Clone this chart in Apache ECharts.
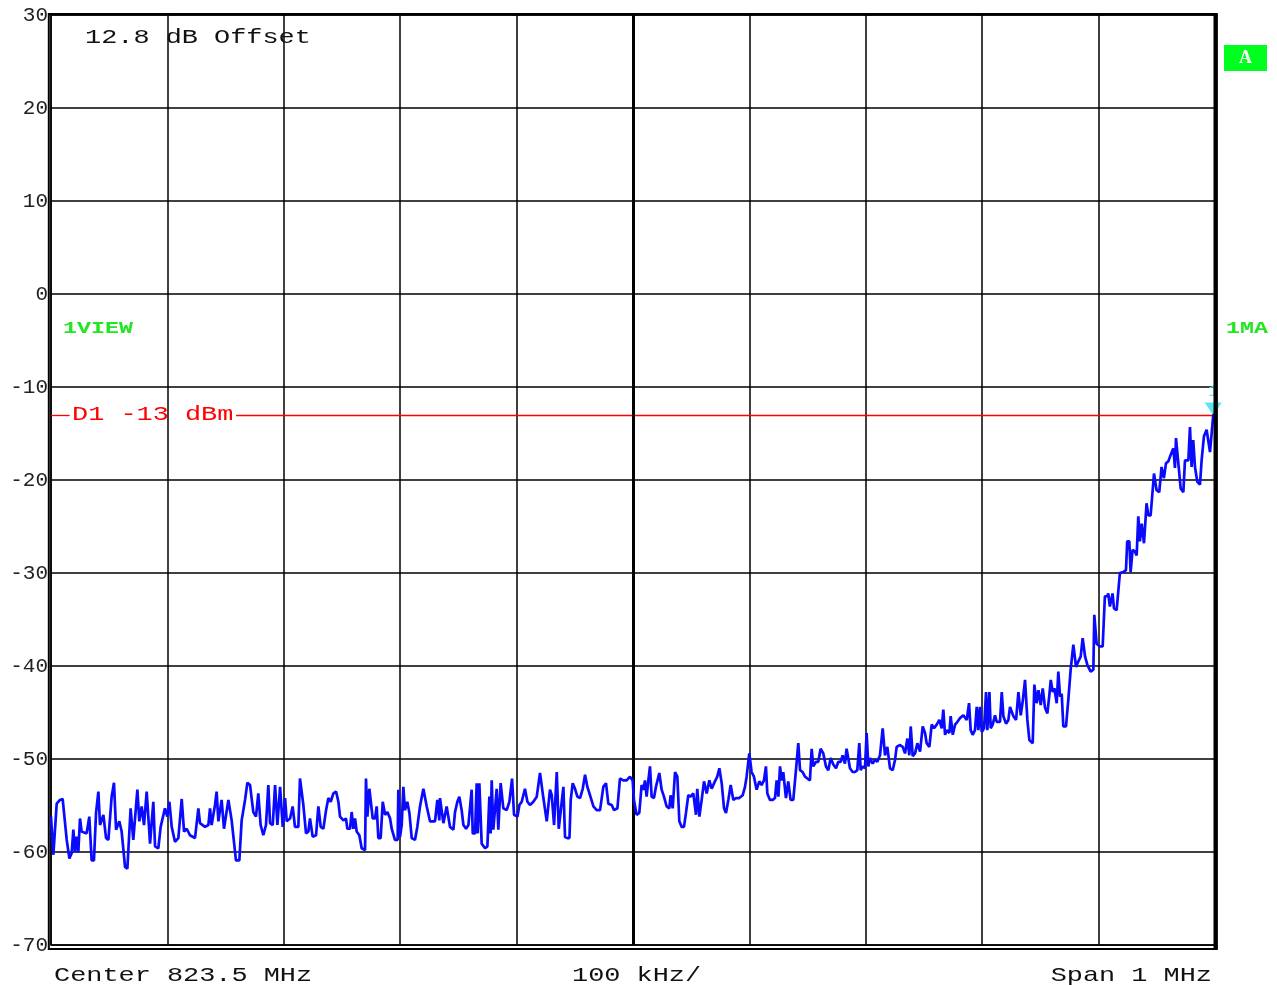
<!DOCTYPE html>
<html><head><meta charset="utf-8">
<script src="https://cdn.jsdelivr.net/npm/echarts@6/dist/echarts.min.js"></script>
<style>html,body{margin:0;padding:0;background:#fff}#c{width:1277px;height:985px}</style>
</head><body><div id="c"></div><script>
// Axis settings
const freqSpanKHz = [0, 1000];
const levelRange = [-70, 30];
const limitLineDBm = -13;
const markerPoint = [998.5, -13.0];
const headerText = '12.8 dB Offset';
const footerTexts = ['Center 823.5 MHz', '100 kHz/', 'Span 1 MHz'];

// Trace: [frequency offset kHz, level dBm]
const traceSeg1 = [[0,-56.2],[2.0,-60.3],[4.9,-54.8],[7.7,-54.4],[10.0,-54.3],[11.2,-55.8],[13.5,-58.7],[15.8,-60.7],[17.8,-60.1],[19.2,-57.6],[20.6,-60.0],[22.1,-58.35],[23.5,-60.0],[24.9,-56.4],[26.3,-57.8],[27.8,-57.6],[30.6,-58.0],[32.9,-56.2],[34.9,-60.9],[36.9,-60.9],[38.7,-55.8],[40.7,-53.5],[42.1,-57.1],[45.0,-56.0],[47.3,-58.5],[49.3,-58.7],[52.1,-54.05],[54.1,-52.55],[55.9,-57.6],[58.7,-56.7],[60.7,-57.8],[63.6,-61.6],[65.6,-61.8],[68.4,-55.3],[70.7,-58.7],[74.2,-53.3],[75.9,-56.7],[77.9,-55.1],[79.9,-57.1],[82.2,-53.5],[85.1,-59.1],[87.9,-54.6],[89.4,-59.4],[92.2,-59.6],[94.2,-57.3],[97.9,-55.3],[99.9,-56.2],[101.7,-54.6],[103.7,-57.3],[106.5,-58.9],[109.4,-58.5],[112.3,-54.3],[114.3,-57.8],[116.6,-57.5],[119.4,-58.2],[123.7,-58.5],[126.6,-55.3],[128.0,-56.9],[132.3,-57.3],[135.2,-57.1],[136.6,-55.3],[138.0,-57.1],[140.9,-54.95],[142.3,-53.5],[143.8,-56.7],[146.6,-54.4],[148.6,-57.5],[152.4,-54.4],[155.2,-56.6],[158.9,-60.9],[161.8,-60.9],[163.8,-56.6],[166.7,-54.4],[168.7,-52.55],[171.0,-52.8],[173.8,-55.7],[176.1,-56.2],[178.1,-53.7],[180.1,-57.1],[182.4,-58.2],[184.7,-57.1],[186.7,-52.8],[188.2,-56.9],[190.5,-57.1],[192.5,-52.8],[194.5,-57.1],[196.8,-53.0],[199.1,-57.3],[201.1,-54.2],[202.5,-56.7],[205.4,-56.4],[207.6,-55.1],[209.6,-57.3],[212.5,-57.3],[213.9,-52.1],[216.8,-54.95],[219.1,-58.0],[221.1,-57.8],[222.5,-56.4],[224.8,-58.35],[227.7,-58.2],[229.7,-55.1],[231.7,-57.3],[234.0,-57.5],[236.3,-55.5],[238.3,-54.2],[240.3,-54.6],[242.6,-53.7],[244.9,-53.5],[246.9,-54.6]];
const traceSeg2 = [[248.3,-56.2],[251.2,-56.6],[253.4,-56.4],[254.6,-57.5],[256.9,-57.5],[258.3,-55.7],[259.8,-57.5],[261.2,-56.4],[262.6,-57.8],[264.9,-58.2],[266.9,-59.6],[269.8,-59.8],[270.6,-52.1],[271.8,-56.2],[273.5,-53.2],[274.6,-53.2],[276.4,-56.4],[278.4,-56.4],[279.8,-55.1],[281.2,-58.5],[283.2,-58.5],[285.0,-54.6],[287.0,-56.0],[289.0,-55.7],[291.3,-56.4],[292.7,-57.5],[295.5,-58.7],[297.8,-58.7],[298.4,-53.3],[299.8,-58.4],[301.3,-57.1],[302.7,-53.0],[304.1,-55.5],[306.1,-54.6],[307.9,-55.8],[309.9,-58.5],[312.7,-58.7],[314.7,-57.3],[317.0,-55.1],[319.9,-53.2],[322.8,-55.1],[325.6,-56.7],[329.9,-56.7],[331.9,-54.4],[333.6,-56.6],[334.2,-54.2],[337.1,-56.9],[339.9,-55.1],[342.8,-57.3],[345.7,-57.6],[347.1,-55.7],[349.1,-54.6],[350.8,-54.05],[352.8,-55.5],[354.3,-57.1],[356.6,-57.5],[358.6,-57.1],[361.4,-53.3],[362.3,-58.0],[364.3,-58.0],[365.7,-52.6],[366.6,-58.0],[368.0,-52.6],[370.0,-59.1],[372.9,-59.6],[374.9,-59.4],[376.6,-54.05],[377.7,-58.0],[378.6,-52.3],[380.0,-57.6],[382.9,-53.2],[384.3,-57.6],[386.3,-52.6],[388.6,-55.3],[391.5,-55.5],[393.8,-54.6],[396.1,-52.1],[397.8,-56.0],[400.7,-56.2],[402.4,-54.95],[404.4,-54.6],[407.2,-53.2],[409.3,-54.6],[411.5,-54.95],[414.4,-54.6],[417.3,-54.05],[420.1,-51.5],[423.0,-54.2],[425.9,-56.7],[428.7,-53.3],[430.2,-53.9],[432.2,-57.1],[434.5,-51.4],[436.2,-57.5],[437.9,-57.6],[440.2,-53.0],[441.6,-58.4],[443.6,-58.5],[445.4,-58.5],[446.5,-54.4],[448.2,-52.6],[450.2,-53.2],[452.2,-54.05],[454.5,-54.2],[456.8,-53.2],[458.8,-51.7],[460.8,-53.0],[463.1,-53.9],[466.0,-55.1],[468.8,-55.5],[471.7,-55.5],[474.5,-53.0],[476.8,-52.6],[478.8,-54.8],[481.7,-54.95],[483.7,-55.5],[486.6,-55.3]];
const traceSeg3 = [[488.8,-52.1],[491.7,-52.3],[494.5,-52.3],[497.4,-51.9],[499.7,-52.3],[500.8,-54.4],[503.1,-56.0],[505.4,-55.8],[507.4,-52.8],[508.9,-53.3],[510.3,-52.3],[511.7,-54.05],[513.2,-52.3],[514.6,-50.8],[516.0,-54.05],[518.0,-54.2],[519.7,-53.0],[522.6,-51.5],[524.6,-53.3],[526.6,-54.05],[528.9,-55.1],[531.2,-55.3],[532.3,-53.9],[534.1,-55.3],[536.1,-51.4],[538.1,-51.9],[539.8,-56.7],[541.8,-57.3],[543.8,-57.3],[545.5,-55.8],[547.5,-53.9],[549.5,-54.05],[551.8,-53.7],[554.1,-56.0],[555.2,-53.2],[557.0,-56.2],[559.0,-54.4],[561.0,-52.4],[563.3,-53.7],[565.6,-52.3],[567.6,-53.2],[570.4,-52.4],[572.4,-51.9],[574.2,-51.0],[576.2,-52.6],[578.2,-55.3],[579.9,-55.8],[581.9,-54.4],[583.9,-52.8],[586.2,-54.4],[588.5,-54.2],[591.3,-54.2],[594.2,-53.9],[596.2,-53.0],[597.6,-51.9],[599.9,-49.4],[601.9,-51.4],[603.9,-51.9],[606.2,-53.3],[608.5,-52.4],[610.5,-52.8],[612.5,-52.3],[614.2,-50.8],[615.4,-53.7],[617.7,-54.4],[620.0,-54.4],[622.0,-54.2],[623.4,-52.3],[624.9,-54.05],[626.3,-50.8],[627.7,-52.3],[629.1,-51.4],[631.4,-54.2],[633.4,-52.4],[635.4,-54.4],[637.7,-54.4],[640.0,-51.2],[642.0,-48.3],[643.5,-51.2],[645.7,-51.4],[647.8,-51.9],[649.8,-52.1],[652.0,-52.3],[653.5,-48.9],[654.9,-50.8],[657.2,-50.3],[659.2,-50.3],[661.2,-48.9],[663.5,-49.4],[665.8,-50.8],[667.8,-51.2],[669.8,-49.9],[672.1,-50.6],[674.4,-51.0],[676.4,-50.3],[678.4,-50.3],[680.1,-49.6],[682.1,-50.5],[683.5,-48.9],[685.0,-48.7],[686.4,-51.0],[688.7,-51.4],[690.7,-51.4],[692.7,-51.2],[694.4,-48.3],[695.6,-51.2],[697.3,-50.8],[699.3,-51.0],[700.7,-47.2],[702.2,-50.8],[703.6,-49.9],[705.9,-50.5],[707.9,-50.1],[709.9,-50.3],[712.2,-49.6],[714.5,-46.7],[716.5,-49.6],[718.5,-48.7],[720.8,-51.0],[723.1,-51.2],[725.1,-50.1],[726.5,-48.7]];
const traceSeg4 = [[729.4,-48.5],[731.7,-48.7],[733.7,-49.4],[735.7,-47.8],[737.4,-49.6],[738.6,-46.5],[740.3,-49.7],[742.3,-49.4],[744.3,-48.3],[746.6,-49.2],[748.9,-46.5],[750.9,-47.2],[752.3,-48.3],[754.6,-48.7],[756.6,-46.3],[758.6,-46.7],[760.9,-46.3],[763.2,-45.8],[765.2,-46.7],[766.6,-44.7],[768.1,-47.4],[769.5,-46.9],[771.8,-47.2],[772.9,-45.4],[774.7,-47.4],[776.7,-46.3],[778.7,-46.0],[781.0,-45.6],[783.8,-45.3],[786.7,-45.8],[788.7,-44.0],[790.1,-46.9],[791.8,-47.4],[793.8,-46.9],[795.3,-44.4],[796.7,-46.9],[798.1,-44.4],[799.6,-47.1],[801.6,-46.7],[803.3,-42.8],[804.4,-46.9],[806.2,-42.8],[807.3,-46.7],[809.0,-46.3],[811.0,-45.3],[812.5,-46.0],[815.3,-46.0],[816.8,-42.8],[818.2,-45.4],[820.5,-46.2],[822.5,-45.8],[823.9,-44.4],[826.8,-45.4],[829.1,-45.8],[831.1,-42.8],[833.1,-45.3],[834.8,-43.8],[836.8,-41.5],[838.8,-45.8],[840.5,-47.95],[843.4,-48.3],[844.8,-42.0],[846.8,-44.0],[848.3,-42.6],[850.3,-44.2],[852.0,-42.4],[854.0,-44.5],[856.0,-45.1],[857.7,-43.1],[858.9,-41.5],[860.6,-42.8],[862.0,-42.4],[864.0,-44.0],[865.4,-40.6],[866.9,-43.3],[868.3,-43.0],[869.7,-46.5],[872.0,-46.5],[874.0,-43.6],[876.0,-40.4],[878.3,-37.7],[880.6,-40.1],[882.6,-39.5],[884.6,-39.0],[886.3,-37.0],[888.4,-39.0],[890.4,-39.9],[893.2,-40.6],[895.5,-40.4]];
const traceSeg5 = [[896.3,-34.5],[898.3,-37.6],[901.2,-37.9],[903.5,-37.9],[905.4,-32.5],[907.4,-32.5],[908.3,-32.2],[909.7,-33.6],[912.0,-32.2],[913.2,-33.8],[915.5,-34.0],[918.3,-30.0],[921.2,-29.9],[923.5,-29.7],[924.6,-26.6],[926.4,-26.6],[927.5,-29.9],[929.2,-27.5],[931.2,-27.7],[932.7,-28.1],[934.1,-23.9],[935.5,-26.6],[937.0,-24.7],[939.0,-26.8],[940.7,-26.6],[941.2,-22.5],[942.7,-23.8],[944.7,-23.8],[947.6,-19.3],[949.8,-21.1],[952.1,-21.3],[954.1,-18.6],[956.1,-19.8],[957.9,-18.2],[959.9,-18.0],[961.9,-17.3],[964.2,-16.6],[965.6,-18.7],[966.5,-15.5],[968.5,-18.2],[970.5,-20.9],[972.8,-21.3],[974.2,-17.9],[975.6,-17.7],[977.1,-17.9],[978.5,-14.3],[979.9,-18.6],[981.3,-15.7],[982.8,-18.6],[984.8,-20.2],[987.1,-20.5],[988.5,-17.9],[990.5,-15.3],[992.8,-14.6],[994.2,-14.6],[995.7,-17.0],[997.1,-17.1],[998.5,-13.0],[1000,-13.0]];
const trace = traceSeg1.concat(traceSeg2, traceSeg3, traceSeg4, traceSeg5);

const MONO = '"Liberation Mono", "DejaVu Sans Mono", monospace';
const chart = echarts.init(document.getElementById('c'), null, {renderer: 'canvas'});
const GL = 51, GT = 15, GW = 1164, GH = 930;

function txt(x, y, text, opts) {
  opts = opts || {};
  return {
    type: 'text', x: x, y: y, scaleX: opts.sx || 1.28, z: 50,
    style: {
      text: text, fill: opts.fill || '#111', fontFamily: opts.family || MONO,
      fontSize: opts.size || 21, fontWeight: opts.weight || 'normal',
      align: opts.align || 'left', verticalAlign: 'middle'
    }
  };
}

const redLine = {color: '#ff0000', width: 1.3, type: 'solid', opacity: 1};

chart.setOption({
  animation: false,
  backgroundColor: '#fff',
  grid: {left: GL, top: GT, width: GW, height: GH, show: true, borderColor: '#000', borderWidth: 1.5},
  xAxis: {
    type: 'value', min: freqSpanKHz[0], max: freqSpanKHz[1], interval: 100,
    axisLine: {show: false}, axisTick: {show: false}, axisLabel: {show: false},
    splitLine: {show: true, lineStyle: {color: '#000', width: 1.5}}
  },
  yAxis: {
    type: 'value', min: levelRange[0], max: levelRange[1], interval: 10,
    axisLine: {show: false}, axisTick: {show: false},
    axisLabel: {fontFamily: MONO, fontSize: 21, color: '#222', margin: 3},
    splitLine: {show: true, lineStyle: {color: '#000', width: 1.5}}
  },
  series: [
    {
      type: 'line', data: [], silent: true, z: 3,
      markLine: {
        silent: true, symbol: 'none', animation: false, label: {show: false},
        emphasis: {disabled: true},
        lineStyle: redLine,
        data: [
          [{coord: [freqSpanKHz[0], limitLineDBm]}, {coord: [16, limitLineDBm]}],
          [{coord: [159, limitLineDBm]}, {coord: [freqSpanKHz[1], limitLineDBm]}]
        ]
      }
    },
    {
      type: 'line', data: [], silent: true, z: 3,
      markLine: {
        silent: true, symbol: 'none', animation: false, label: {show: false},
        emphasis: {disabled: true},
        lineStyle: {color: '#000', width: 3, type: 'solid', opacity: 1},
        data: [{xAxis: 500}]
      }
    },
    {
      type: 'line', data: trace, showSymbol: false, symbol: 'none', z: 5,
      lineStyle: {color: '#0a0aff', width: 2.7}
    },
    {
      type: 'line', data: [], silent: true, zlevel: 1,
      markPoint: {
        silent: true, animation: false,
        data: [{
          coord: markerPoint, symbol: 'triangle', symbolRotate: 180, symbolSize: [17, 13],
          symbolOffset: [0, -6], itemStyle: {color: '#5ae6f5'},
          label: {show: true, formatter: '1', position: 'top', distance: 2, color: '#5ae6f5', fontFamily: MONO, fontSize: 17}
        }]
      }
    }
  ],
  graphic: [
    {type: 'rect', z: 40, shape: {x: 48.8, y: 14, width: 1168, height: 935}, style: {fill: 'none', stroke: '#000', lineWidth: 2}},
    {type: 'line', z: 40, shape: {x1: 1215.5, y1: 14, x2: 1215.5, y2: 949}, style: {stroke: '#000', lineWidth: 4}},
    txt(85, 37, headerText, {fill: '#111'}),
    txt(72, 414, 'D1 -13 dBm', {fill: '#ff0000'}),
    txt(63, 329, '1VIEW', {fill: '#22e622', weight: 'bold', size: 17, sx: 1.37}),
    txt(1226, 329, '1MA', {fill: '#22e622', weight: 'bold', size: 17, sx: 1.37}),
    {type: 'rect', z: 40, shape: {x: 1224, y: 45, width: 43, height: 26}, style: {fill: '#00ff1e'}},
    {type: 'text', z: 41, x: 1245.5, y: 58, style: {text: 'A', fill: '#fff', fontFamily: '"Liberation Serif", serif', fontWeight: 'bold', fontSize: 18, align: 'center', verticalAlign: 'middle'}},
    txt(54, 975, footerTexts[0]),
    txt(572, 975, footerTexts[1]),
    txt(1212, 975, footerTexts[2], {align: 'right'})
  ]
});
</script></body></html>
